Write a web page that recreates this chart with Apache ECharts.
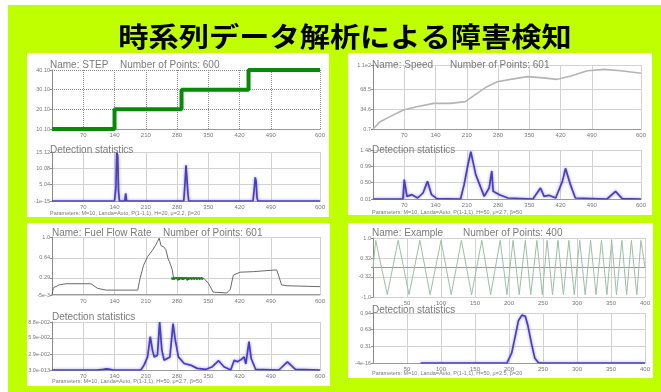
<!DOCTYPE html>
<html>
<head>
<meta charset="utf-8">
<script src="https://cdn.jsdelivr.net/npm/echarts@6/dist/echarts.min.js"></script>
<style>
  html, body { margin: 0; padding: 0; background: #ffffff; }
  #chart { width: 661px; height: 392px; }
</style>
</head>
<body>
<div id="chart"></div>
<script>
// ---------- x-axis ticks ----------
const xTicks600 = [70, 140, 210, 280, 350, 420, 490, 600];
const xTicks400 = [50, 100, 150, 200, 250, 300, 350, 400];

// ---------- STEP ----------
const stepYTicks = [10.1, 20.1, 30.1, 40.1];
const stepYLabels = ['10.10', '20.10', '30.10', '40.10'];
const stepValues = [[0, 10.1], [140, 10.1], [140, 20.1], [290, 20.1], [290, 30.1], [440, 30.1], [440, 40.1], [600, 40.1]];

const stepDetYTicks = [0, 5.04, 10.08, 15.12];
const stepDetYLabels = ['-1e-15', '5.04', '10.08', '15.12'];
const stepDetection = [[0, 0], [140, 0], [143, 4], [145, 15], [147, 14], [149, 3], [151, 0], [163, 0], [165, 2.4], [167, 0],
  [295, 0], [298, 6], [300, 11], [302, 10.5], [304, 3], [306, 0], [450, 0], [453, 4], [455, 7.3], [457, 6], [459, 1], [461, 0], [600, 0]];

// ---------- Speed ----------
const speedYTicks = [0.7, 34.6, 68.5, 110];
const speedYLabels = ['0.7', '34.6', '68.5', '1.1e2'];
const speedValues = [[0, 0.7], [16, 13.2], [38, 21.8], [68, 33.1], [98, 38.8], [136, 44.5], [173, 44.5], [207, 47.4], [233, 61.6],
  [255, 73.0], [278, 81.5], [308, 85.5], [345, 90.1], [375, 88.4], [413, 85.5], [443, 91.2], [480, 100.3], [518, 102.6], [555, 100.3], [600, 95.8]];

const speedDetYTicks = [0.01, 0.5, 0.99, 1.48];
const speedDetYLabels = ['0.01', '0.50', '0.99', '1.48'];
const speedDetection = [[0, 0.01], [67, 0.01], [70, 0.59], [76, 0.09], [87, 0.14], [100, 0.04], [112, 0.19], [122, 0.54], [131, 0.14],
  [143, 0.02], [196, 0.01], [204, 0.44], [212, 1.0], [219, 1.43], [230, 0.74], [249, 0.09], [260, 0.34], [266, 0.85], [269, 0.24],
  [283, 0.14], [302, 0.04], [358, 0.01], [375, 0.34], [383, 0.09], [394, 0.12], [409, 0.04], [424, 0.54], [431, 0.93], [442, 0.44],
  [453, 0.04], [524, 0.01], [543, 0.24], [558, 0.02], [600, 0.01]];

// ---------- Fuel Flow Rate ----------
const fuelYTicks = [-0.005, 0.29, 0.64, 1.0];
const fuelYLabels = ['-5e-3', '0.29', '0.64', '1.0'];
const fuelValues = [[0, 0], [3, 0.12], [7, 0.15], [16, 0.17], [31, 0.19], [87, 0.19], [102, 0.11], [121, 0.08], [192, 0.08],
  [197, 0.28], [205, 0.51], [214, 0.66], [225, 0.77], [232, 0.86], [236, 0.92], [240, 0.98], [244, 0.85], [250, 0.83], [255, 0.78],
  [260, 0.62], [263, 0.57], [269, 0.44], [272, 0.30], [339, 0.29], [350, 0.20], [361, 0.045], [391, 0.03], [399, 0.09], [406, 0.34],
  [421, 0.39], [451, 0.40], [503, 0.43], [507, 0.34], [514, 0.17], [526, 0.155], [600, 0.14]];
const fuelNoisyBand = [[268, 0.30], [269, 0.26], [270, 0.29], [271, 0.25], [272, 0.30], [273, 0.26], [275, 0.29], [276, 0.25],
  [278, 0.30], [279, 0.27], [281, 0.29], [282, 0.25], [284, 0.30], [285, 0.26], [287, 0.29], [288, 0.25], [290, 0.30], [291, 0.26],
  [293, 0.30], [294, 0.26], [296, 0.29], [297, 0.25], [299, 0.30], [300, 0.27], [302, 0.29], [303, 0.25], [305, 0.30], [306, 0.26],
  [308, 0.29], [309, 0.26], [311, 0.30], [312, 0.26], [314, 0.29], [315, 0.27], [317, 0.30], [318, 0.26], [320, 0.29], [321, 0.25],
  [323, 0.30], [324, 0.26], [326, 0.29], [327, 0.26], [329, 0.30], [330, 0.26], [332, 0.29], [333, 0.27], [335, 0.30], [336, 0.26],
  [338, 0.29], [339, 0.28]];

const fuelDetYTicks = [0, 0.029, 0.059, 0.088];
const fuelDetYLabels = ['3.0e-013', '2.9e-002', '5.9e-002', '8.8e-002'];
const fuelDetection = [[0, 0], [100, 0], [115, 0.001], [122, 0.002], [130, 0.001], [137, 0], [199, 0], [206, 0.009], [214, 0.024],
  [220, 0.061], [225, 0.036], [229, 0.024], [236, 0.027], [241, 0.088], [246, 0.036], [251, 0.018], [264, 0.024], [271, 0.085],
  [276, 0.055], [283, 0.024], [296, 0.012], [310, 0.009], [325, 0.003], [344, 0.001], [359, 0.006], [373, 0.017], [385, 0.006],
  [400, 0], [408, 0.018], [415, 0.015], [423, 0.019], [430, 0.024], [434, 0.011], [441, 0.052], [446, 0.021], [456, 0.001],
  [508, 0], [527, 0.015], [545, 0.001], [600, 0]];

// ---------- Example ----------
const exampleYTicks = [-1, -0.32, 0, 0.32, 1];
const exampleYLabels = ['-1.0', '-0.32', '', '0.32', '1.0'];
const exampleValues = [[0, 0], [4, 0.92], [21, -0.92], [37, 0.92], [53, -0.92], [69, 0.92], [84, -0.92], [100, 0.92], [115, -0.92],
  [130, 0.92], [145, -0.92], [160, 0.92], [173, -0.92], [187, 0.92], [197, -0.92], [206, 0.92], [215, -0.92], [224, 0.92],
  [232, -0.92], [241, 0.92], [249, -0.92], [256, 0.92], [264, -0.92], [272, 0.92], [280, -0.92], [288, 0.92], [296, -0.92],
  [304, 0.92], [312, -0.92], [320, 0.92], [328, -0.92], [336, 0.92], [344, -0.92], [351, 0.92], [358, -0.92], [366, 0.92],
  [373, -0.92], [380, 0.92], [388, -0.92], [394, 0.92], [400, 0]];

const exampleDetYTicks = [0, 0.31, 0.63, 0.94];
const exampleDetYLabels = ['-4e-16', '0.31', '0.63', '0.94'];
const exampleDetection = [[70, 0], [197, 0], [199, 0.03], [204, 0.19], [209, 0.49], [214, 0.80], [219, 0.90], [224, 0.88],
  [228, 0.69], [233, 0.37], [238, 0.09], [243, 0.01], [248, 0], [400, 0]];

// ---------- texts ----------
const titleText = '時系列データ解析による障害検知';
const nameTexts = ['Name: STEP', 'Name: Speed', 'Name: Fuel Flow Rate', 'Name: Example'];
const pointTexts = ['Number of Points: 600', 'Number of Points: 601', 'Number of Points: 601', 'Number of Points: 400'];
const detectionText = 'Detection statistics';
const paramTexts = [
  'Parameters: M=10, Landa=Auto, P(1-1,1), H=20, μ=2.2, β=20',
  'Parameters: M=10, Landa=Auto, P(1-1,1), H=50, μ=2.7, β=50',
  'Parameters: M=10, Landa=Auto, P(1-1,1), H=50, μ=2.7, β=50',
  'Parameters: M=10, Landa=Auto, P(1-1,1), H=50, μ=2.5, β=20'
];

// ---------- layout ----------
const NARROW = '"Liberation Sans Narrow", "Liberation Sans", sans-serif';
const chart = echarts.init(document.getElementById('chart'), null, { renderer: 'canvas' });

const grids = [
  { left: 52, top: 70, width: 268, height: 59 },
  { left: 52, top: 152, width: 268, height: 49 },
  { left: 373, top: 65, width: 268, height: 64 },
  { left: 373, top: 150, width: 268, height: 49 },
  { left: 52, top: 237, width: 268, height: 58 },
  { left: 52, top: 322, width: 268, height: 48 },
  { left: 373, top: 238, width: 272, height: 59 },
  { left: 373, top: 313, width: 272, height: 50 }
].map(g => Object.assign({ containLabel: false, outerBoundsMode: 'none', show: false }, g));

function nearestLabel(ticks, labels) {
  return function (v) {
    let best = 0;
    for (let i = 1; i < ticks.length; i++) {
      if (Math.abs(ticks[i] - v) < Math.abs(ticks[best] - v)) best = i;
    }
    return labels[best];
  };
}

// one entry per plot: x ticks, x max, y ticks, y labels, grid line style
const plots = [
  [xTicks600, 600, stepYTicks, stepYLabels, 'dotted'],
  [xTicks600, 600, stepDetYTicks, stepDetYLabels, 'solid'],
  [xTicks600, 600, speedYTicks, speedYLabels, 'solid'],
  [xTicks600, 600, speedDetYTicks, speedDetYLabels, 'solid'],
  [xTicks600, 600, fuelYTicks, fuelYLabels, 'solid'],
  [xTicks600, 600, fuelDetYTicks, fuelDetYLabels, 'solid'],
  [xTicks400, 400, exampleYTicks, exampleYLabels, 'solid'],
  [xTicks400, 400, exampleDetYTicks, exampleDetYLabels, 'solid']
];

const xAxes = plots.map((p, i) => ({
  type: 'value', gridIndex: i, min: 0, max: p[1],
  axisLine: { show: true, lineStyle: { color: '#9a9a9a', width: 1 } },
  axisTick: { show: false, customValues: p[0] },
  axisLabel: { customValues: p[0], fontSize: 6, color: '#777', margin: 3, fontFamily: NARROW },
  splitLine: { show: true, lineStyle: { color: p[4] === 'dotted' ? '#8a8a8a' : '#d2d2d2', type: p[4], width: 1 } }
}));

const yAxes = plots.map((p, i) => ({
  type: 'value', gridIndex: i, min: p[2][0], max: p[2][p[2].length - 1],
  axisLine: { show: true, lineStyle: { color: '#8a8a8a', width: 1 } },
  axisTick: { show: true, length: 2, customValues: p[2], lineStyle: { color: '#8a8a8a' } },
  axisLabel: { customValues: p[2], fontSize: 5.5, color: '#777', margin: 2, fontFamily: NARROW, formatter: nearestLabel(p[2], p[3]) },
  splitLine: { show: true, lineStyle: { color: p[4] === 'dotted' ? '#8a8a8a' : '#d2d2d2', type: p[4], width: 1 } }
}));

const detectionStyle = { color: '#4a3fb8', width: 1.7, shadowColor: 'rgba(120,110,235,0.8)', shadowBlur: 3 };

function line(idx, data, lineStyle, z) {
  return { type: 'line', xAxisIndex: idx, yAxisIndex: idx, data: data, showSymbol: false, symbol: 'none',
    lineStyle: lineStyle, z: z || 3, silent: true, animation: false };
}

const series = [
  line(0, stepValues, { color: '#078a07', width: 4 }),
  line(1, stepDetection, detectionStyle),
  line(2, speedValues, { color: '#b4b4b4', width: 1.6 }),
  line(3, speedDetection, detectionStyle),
  line(4, fuelValues, { color: '#6a6a6a', width: 1 }),
  line(4, fuelNoisyBand, { color: '#1a7f1a', width: 1.4 }, 4),
  line(5, fuelDetection, detectionStyle),
  line(6, exampleValues, { color: '#9cbfa6', width: 1 }),
  line(7, exampleDetection, detectionStyle)
];

// panel backgrounds and captions
const panels = [
  { x: 27, y: 53, width: 302, height: 164 },
  { x: 348, y: 53, width: 304, height: 162 },
  { x: 27, y: 223, width: 303, height: 163 },
  { x: 348, y: 223, width: 305, height: 155 }
];
const nameAt = [[50, 65, 120], [372, 65, 450], [52, 233, 163], [372, 233, 463]];
const detAt = [[50, 150], [372, 150], [52, 317], [372, 310]];
const paramAt = [[50, 213], [372, 212], [52, 381], [372, 373]];

const graphics = [
  { type: 'rect', z: -20, shape: { x: 8, y: 5, width: 653, height: 387 }, style: { fill: '#c0ff00' } }
];
panels.forEach(p => graphics.push({ type: 'rect', z: -10, shape: p, style: { fill: '#ffffff' } }));
graphics.push({
  type: 'text', z: 50, x: 345, y: 37, scaleX: 1.12, originX: 0, originY: 0,
  style: { text: titleText, fill: '#000000', font: 'bold 27px "Noto Sans CJK JP", "Noto Sans CJK SC", sans-serif',
    textAlign: 'center', textVerticalAlign: 'middle' }
});
for (let i = 0; i < 4; i++) {
  const smallGray = (t, x, y, size) => ({
    type: 'text', z: 50, x: x, y: y,
    style: { text: t, fill: '#7a7a7a', font: size + 'px ' + NARROW, textAlign: 'left', textVerticalAlign: 'middle' }
  });
  graphics.push(smallGray(nameTexts[i], nameAt[i][0], nameAt[i][1], 10));
  graphics.push(smallGray(pointTexts[i], nameAt[i][2], nameAt[i][1], 10));
  graphics.push(smallGray(detectionText, detAt[i][0], detAt[i][1], 10));
  graphics.push(smallGray(paramTexts[i], paramAt[i][0], paramAt[i][1], 5.5));
}

chart.setOption({
  animation: false,
  backgroundColor: '#ffffff',
  grid: grids,
  xAxis: xAxes,
  yAxis: yAxes,
  series: series,
  graphic: { elements: graphics }
});
</script>
</body>
</html>
